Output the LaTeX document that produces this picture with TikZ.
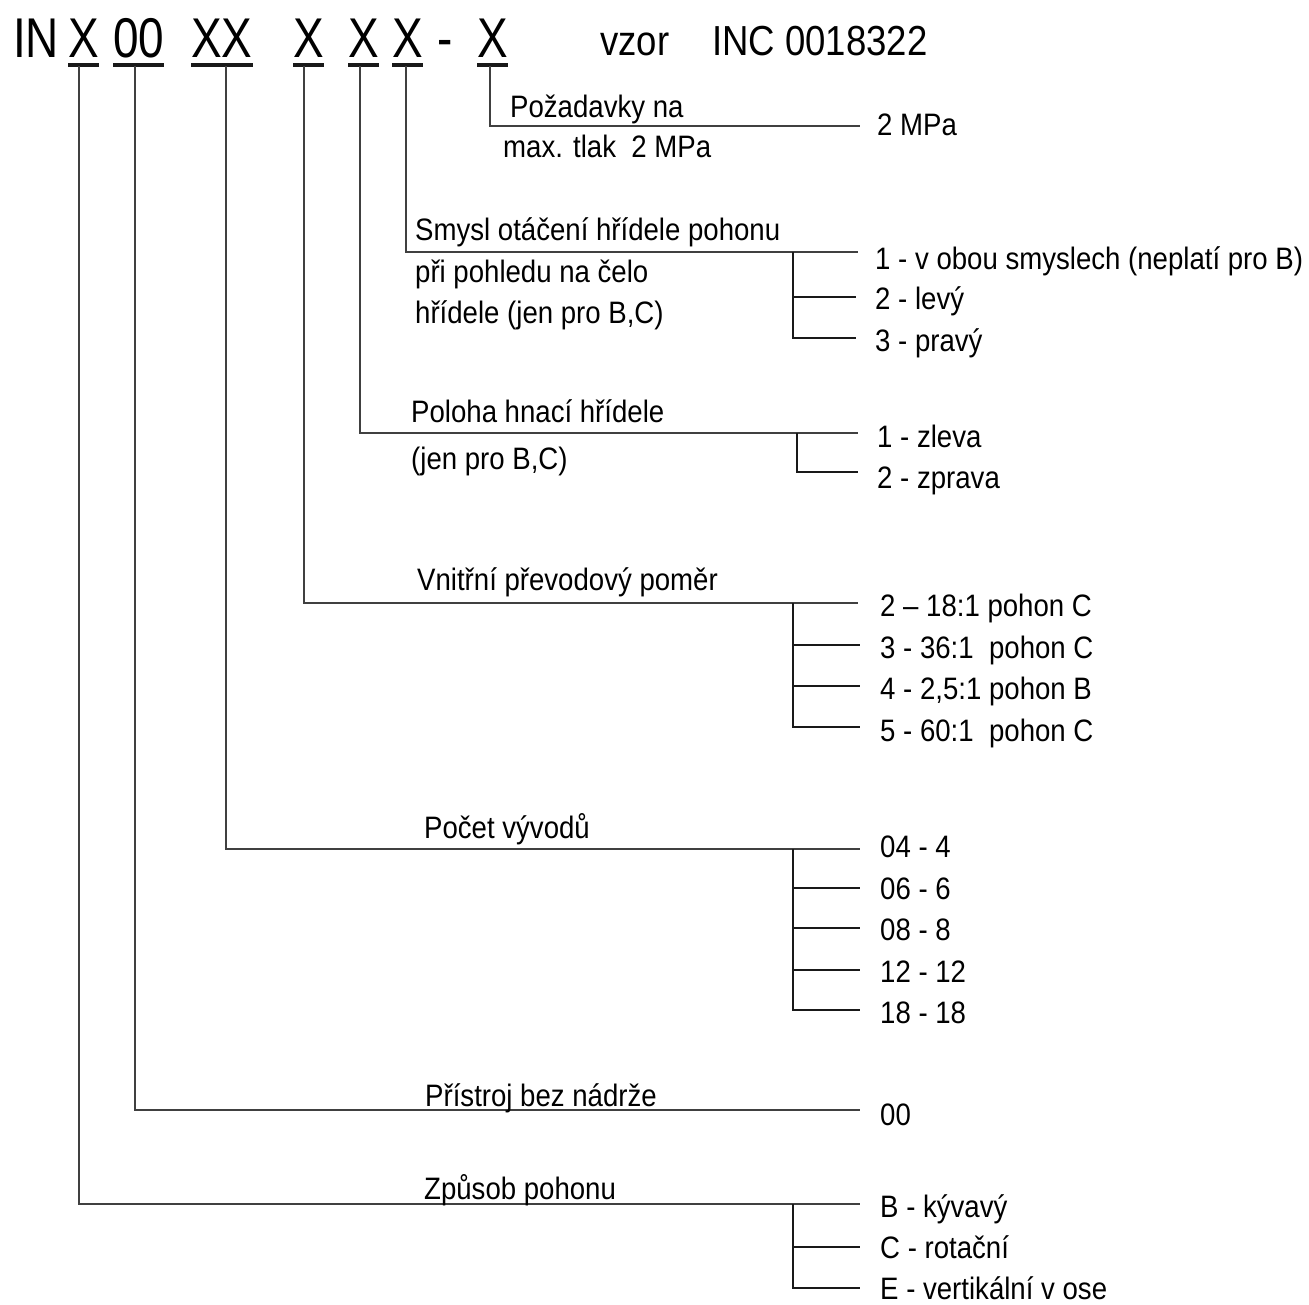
\documentclass[tikz,border=0pt]{standalone}
\usepackage{fontspec}
\setmainfont[FakeStretch=0.89]{Liberation Sans}
\newfontfamily\hdrfont[FakeStretch=0.82]{Liberation Sans}
\newfontfamily\vzorfont[FakeStretch=0.87]{Liberation Sans}
\begin{document}
\begin{tikzpicture}[x=1pt,y=-1pt,
  hdr/.style={anchor=base west,inner sep=0pt,font=\hdrfont\fontsize{56}{60}\selectfont},
  vz/.style={anchor=base west,inner sep=0pt,font=\vzorfont\fontsize{42}{46}\selectfont},
  lbl/.style={anchor=base west,inner sep=0pt,font=\fontsize{31}{36}\selectfont},
  uline/.style={line width=4pt,black!90},
  conn/.style={line width=2pt,black!75},
  brk/.style={line width=1.5pt,black!90}]
\useasboundingbox (0,0) rectangle (1309,1304);
% header
\node[hdr] (hIN) at (13,57) {IN};
\node[hdr] (hA) at (68,57) {X};
\node[hdr] (hB) at (113,57) {00};
\node[hdr] (hC) at (191,57) {XX};
\node[hdr] (hD) at (293,57) {X};
\node[hdr] (hE) at (348,57) {X};
\node[hdr] (hF) at (392,57) {X};
\node[hdr] (hdash) at (437,57) {-};
\node[hdr] (hG) at (477,57) {X};
\node[vz] (vzor) at (600,55) {vzor};
\node[vz] (inc) at (712,55) {INC 0018322};
\foreach \n in {hA,hB,hC,hD,hE,hF,hG}
  \draw[uline] ([yshift=-8pt]\n.base west) -- ([yshift=-8pt]\n.base east);
% anchor points below underlines
\coordinate (tA) at (79,66);
\coordinate (tB) at (135,66);
\coordinate (tC) at (226,66);
\coordinate (tD) at (304,66);
\coordinate (tE) at (360,66);
\coordinate (tF) at (406,66);
\coordinate (tG) at (490,66);
% branch ends
\coordinate (eG) at (860,126);
\coordinate (eF) at (858,252);
\coordinate (eE) at (858,433);
\coordinate (eD) at (858,603);
\coordinate (eC) at (860,849);
\coordinate (eB) at (860,1110);
\coordinate (eA) at (860,1204);
\draw[conn] (tG) |- (eG);
\draw[conn] (tF) |- (eF);
\draw[conn] (tE) |- (eE);
\draw[conn] (tD) |- (eD);
\draw[conn] (tC) |- (eC);
\draw[conn] (tB) |- (eB);
\draw[conn] (tA) |- (eA);
% Pozadavky
\node[lbl] (gT1) at (510,117) {Požadavky na};
\node[lbl] (gT2) at (503,157) {max. tlak\ \ 2 MPa};
\node[lbl] (g1) at (877,135) {2 MPa};
% Smysl
\node[lbl] (fT1) at (415,240) {Smysl otáčení hřídele pohonu};
\node[lbl] (fT2) at (415,282) {při pohledu na čelo};
\node[lbl] (fT3) at (415,323) {hřídele (jen pro B,C)};
\node[lbl] (f1) at (875,269) {1 - v obou smyslech (neplatí pro B)};
\node[lbl] (f2) at (875,309) {2 - levý};
\node[lbl] (f3) at (875,351) {3 - pravý};
\coordinate (fb) at (793,252);
\draw[brk] (fb) |- (856,338);
\draw[brk] (793,297) -- (856,297);
% Poloha
\node[lbl] (eT1) at (411,422) {Poloha hnací hřídele};
\node[lbl] (eT2) at (411,469) {(jen pro B,C)};
\node[lbl] (e1) at (877,447) {1 - zleva};
\node[lbl] (e2) at (877,488) {2 - zprava};
\coordinate (ebk) at (797,433);
\draw[brk] (ebk) |- (858,472);
% Vnitrni
\node[lbl] (dT1) at (417,590) {Vnitřní převodový poměr};
\node[lbl] (d1) at (880,616) {2 -- 18:1 pohon C};
\node[lbl] (d2) at (880,658) {3 - 36:1\ \ pohon C};
\node[lbl] (d3) at (880,699) {4 - 2,5:1 pohon B};
\node[lbl] (d4) at (880,741) {5 - 60:1\ \ pohon C};
\coordinate (dbk) at (793,603);
\draw[brk] (dbk) |- (860,727);
\draw[brk] (793,645) -- (860,645);
\draw[brk] (793,686) -- (860,686);
% Pocet
\node[lbl] (cT1) at (424,838) {Počet vývodů};
\node[lbl] (c1) at (880,857) {04 - 4};
\node[lbl] (c2) at (880,899) {06 - 6};
\node[lbl] (c3) at (880,940) {08 - 8};
\node[lbl] (c4) at (880,982) {12 - 12};
\node[lbl] (c5) at (880,1023) {18 - 18};
\coordinate (cbk) at (793,849);
\draw[brk] (cbk) |- (860,1010);
\draw[brk] (793,888) -- (860,888);
\draw[brk] (793,928) -- (860,928);
\draw[brk] (793,970) -- (860,970);
% Pristroj
\node[lbl] (bT1) at (425,1106) {Přístroj bez nádrže};
\node[lbl] (b1) at (880,1125) {00};
% Zpusob
\node[lbl] (aT1) at (424,1199) {Způsob pohonu};
\node[lbl] (a1) at (880,1217) {B - kývavý};
\node[lbl] (a2) at (880,1258) {C - rotační};
\node[lbl] (a3) at (880,1299) {E - vertikální v ose};
\coordinate (abk) at (793,1204);
\draw[brk] (abk) |- (860,1288);
\draw[brk] (793,1247) -- (860,1247);
\end{tikzpicture}
\end{document}
